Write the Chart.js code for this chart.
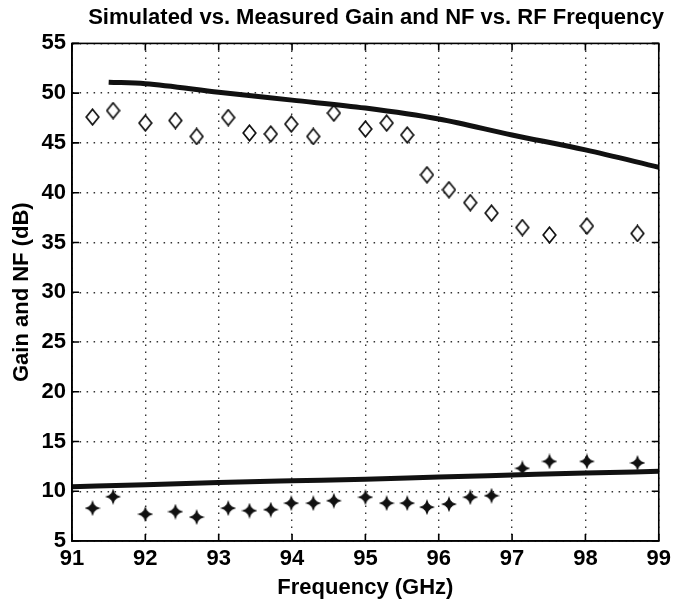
<!DOCTYPE html>
<html>
<head>
<meta charset="utf-8">
<script src="https://cdn.jsdelivr.net/npm/chart.js@4.4.1/dist/chart.umd.min.js"></script>
<style>
  html, body { margin: 0; padding: 0; background: #fff; }
</style>
</head>
<body>
<canvas id="chart" width="676" height="603"></canvas>
<script>
// measured points (diamonds = gain, stars = NF)
const measFreq = [91.28, 91.56, 92.0, 92.41, 92.7, 93.13, 93.42, 93.71, 93.99, 94.29, 94.57,
                  95.0, 95.29, 95.57, 95.84, 96.14, 96.43, 96.72, 97.14, 97.51, 98.02, 98.71];
const measGain = [47.6, 48.25, 47.0, 47.25, 45.65, 47.55, 46.0, 45.9, 46.9, 45.65, 48.0,
                  46.4, 47.0, 45.8, 41.8, 40.3, 39.0, 37.95, 36.5, 35.75, 36.65, 35.9];
const measNF   = [8.3, 9.45, 7.7, 7.95, 7.4, 8.3, 8.05, 8.15, 8.8, 8.8, 9.05,
                  9.4, 8.8, 8.8, 8.4, 8.7, 9.4, 9.55, 12.3, 13.0, 13.0, 12.85];

// simulated curves
const simGainFreq = [91.5, 92, 93, 94, 95, 96, 97, 98, 99];
const simGain     = [51.1, 50.95, 50.1, 49.3, 48.5, 47.4, 45.8, 44.3, 42.55];
const simNFFreq   = [91, 92, 93, 94, 95, 96, 97, 98, 99];
const simNF       = [10.45, 10.65, 10.88, 11.05, 11.2, 11.43, 11.63, 11.83, 12.0];

const xTicks = [91, 92, 93, 94, 95, 96, 97, 98, 99];
const yTicks = [5, 10, 15, 20, 25, 30, 35, 40, 45, 50, 55];

const FONT = "'Liberation Sans', Arial, sans-serif";

// open diamond marker
function diamondMarker() {
  const c = document.createElement('canvas');
  c.width = 15; c.height = 18;
  const g = c.getContext('2d');
  g.lineWidth = 1.7;
  g.strokeStyle = '#111';
  g.fillStyle = '#fff';
  g.beginPath();
  g.moveTo(7.5, 1.2); g.lineTo(13.8, 9); g.lineTo(7.5, 16.8); g.lineTo(1.2, 9);
  g.closePath();
  g.fill(); g.stroke();
  return c;
}

// filled four-point star marker
function starMarker() {
  const c = document.createElement('canvas');
  c.width = 16; c.height = 16;
  const g = c.getContext('2d');
  g.fillStyle = '#111';
  g.beginPath();
  g.moveTo(8, 0); g.lineTo(10.2, 5.8); g.lineTo(16, 8); g.lineTo(10.2, 10.2);
  g.lineTo(8, 16); g.lineTo(5.8, 10.2); g.lineTo(0, 8); g.lineTo(5.8, 5.8);
  g.closePath();
  g.fill();
  g.beginPath(); g.arc(8, 8, 3.8, 0, Math.PI * 2); g.fill();
  return c;
}

const xy = (xs, ys) => xs.map((x, i) => ({ x: x, y: ys[i] }));

// box around the axes + matlab-style inward ticks
const framePlugin = {
  id: 'frame',
  afterDatasetsDraw(chart) {
    const { ctx, chartArea: a, scales } = chart;
    ctx.save();
    ctx.strokeStyle = '#000';
    ctx.lineWidth = 1.6;
    ctx.strokeRect(a.left, a.top, a.right - a.left, a.bottom - a.top);
    ctx.beginPath();
    const len = 7;
    xTicks.forEach(v => {
      const px = scales.x.getPixelForValue(v);
      ctx.moveTo(px, a.bottom); ctx.lineTo(px, a.bottom - len);
      ctx.moveTo(px, a.top); ctx.lineTo(px, a.top + len);
    });
    yTicks.forEach(v => {
      const py = scales.y.getPixelForValue(v);
      ctx.moveTo(a.left, py); ctx.lineTo(a.left + len, py);
      ctx.moveTo(a.right, py); ctx.lineTo(a.right - len, py);
    });
    ctx.stroke();
    ctx.restore();
  }
};

new Chart(document.getElementById('chart').getContext('2d'), {
  type: 'scatter',
  data: {
    datasets: [
      {
        label: 'Simulated Gain',
        data: xy(simGainFreq, simGain),
        showLine: true,
        borderColor: '#111',
        borderWidth: 5,
        pointRadius: 0,
        cubicInterpolationMode: 'monotone'
      },
      {
        label: 'Simulated NF',
        data: xy(simNFFreq, simNF),
        showLine: true,
        borderColor: '#111',
        borderWidth: 5,
        pointRadius: 0,
        cubicInterpolationMode: 'monotone'
      },
      {
        label: 'Measured Gain',
        data: xy(measFreq, measGain),
        pointStyle: diamondMarker(),
        pointRadius: 7
      },
      {
        label: 'Measured NF',
        data: xy(measFreq, measNF),
        pointStyle: starMarker(),
        pointRadius: 7
      }
    ]
  },
  options: {
    responsive: false,
    animation: false,
    layout: { autoPadding: false, padding: { left: 0, right: 12, top: 0, bottom: 0 } },
    plugins: {
      legend: { display: false },
      tooltip: { enabled: false },
      title: {
        display: true,
        text: 'Simulated vs. Measured Gain and NF vs. RF Frequency',
        align: 'end',
        color: '#000',
        font: { family: FONT, size: 22, weight: 'bold' },
        padding: { top: 5, bottom: 12 }
      }
    },
    scales: {
      x: {
        type: 'linear',
        min: 91,
        max: 99,
        afterFit: s => { s.height = 62; },
        afterBuildTicks: s => { s.ticks = xTicks.map(v => ({ value: v })); },
        ticks: { color: '#000', font: { family: FONT, size: 22, weight: 'bold' }, padding: 5 },
        grid: { color: '#333', lineWidth: 1.4, drawTicks: false },
        border: { display: true, color: '#000', width: 1.6, dash: [1.5, 5.5] },
        title: {
          display: true,
          text: 'Frequency (GHz)',
          color: '#000',
          font: { family: FONT, size: 22, weight: 'bold' },
          padding: { top: 0, bottom: 2 }
        }
      },
      y: {
        min: 5,
        max: 55,
        afterFit: s => { s.width = 72; },
        afterBuildTicks: s => { s.ticks = yTicks.map(v => ({ value: v })); },
        ticks: { color: '#000', font: { family: FONT, size: 22, weight: 'bold' }, padding: 6 },
        grid: { color: '#333', lineWidth: 1.4, drawTicks: false },
        border: { display: true, color: '#000', width: 1.6, dash: [1.5, 5.5] },
        title: {
          display: true,
          text: 'Gain and NF (dB)',
          color: '#000',
          font: { family: FONT, size: 22, weight: 'bold' },
          padding: { top: 9, bottom: 0 }
        }
      }
    }
  },
  plugins: [framePlugin]
});
</script>
</body>
</html>
